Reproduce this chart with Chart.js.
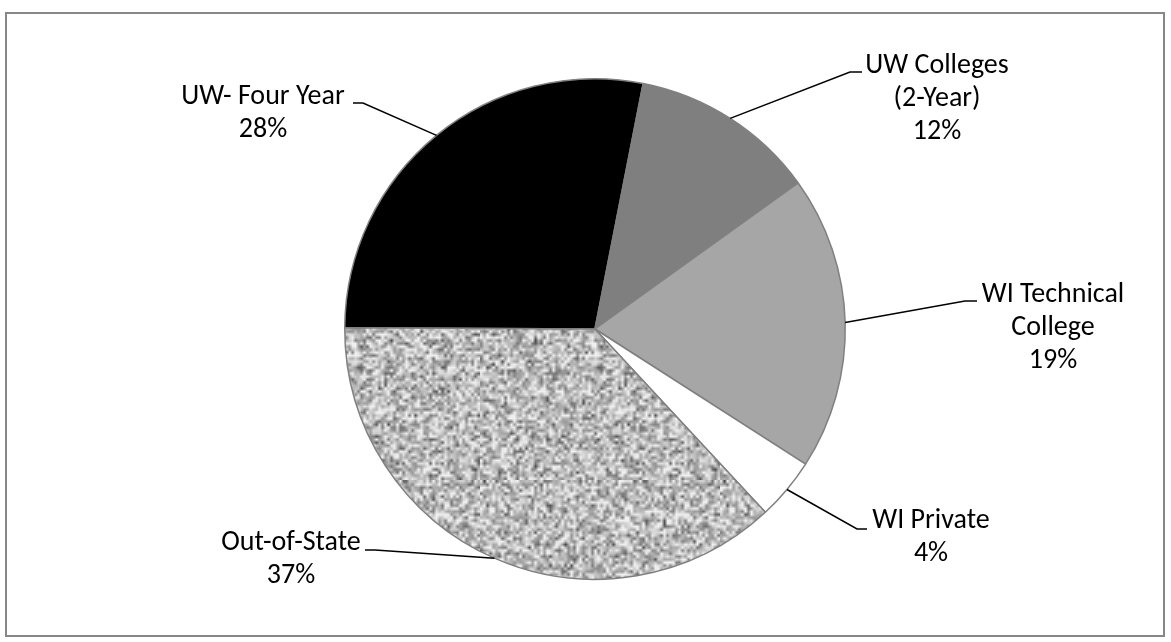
<!DOCTYPE html>
<html>
<head>
<meta charset="utf-8">
<script src="https://cdn.jsdelivr.net/npm/chart.js@4.4.1/dist/chart.umd.min.js"></script>
<style>
  html, body { margin: 0; padding: 0; background: #fff; }
</style>
</head>
<body>
<canvas id="pieChart" width="1171" height="642"></canvas>
<script>
// data
const categories = ['UW- Four Year', 'UW Colleges (2-Year)', 'WI Technical College', 'WI Private', 'Out-of-State'];
const shares = [28, 12, 19, 4, 37];
const labelLines = [['UW- Four Year'], ['UW Colleges', '(2-Year)'], ['WI Technical', 'College'], ['WI Private'], ['Out-of-State']];

// callout placement (text centre, first baseline, elbow of leader line, end of short tick)
const calloutLayout = [
  { cx: 263, y: 104, elbowX: 363, elbowY: 103, tickX: 353 },
  { cx: 937, y: 73, elbowX: 850, elbowY: 72, tickX: 862 },
  { cx: 1053, y: 302, elbowX: 965, elbowY: 301, tickX: 977 },
  { cx: 931, y: 528, elbowX: 857, elbowY: 529, tickX: 867 },
  { cx: 291, y: 550, elbowX: 375, elbowY: 550, tickX: 365 }
];
const FONT = '28px Carlito, Lato, sans-serif';

// granite-ish fill for Out-of-State
function granitePattern(ctx) {
  let seed = 12345;
  const rnd = () => { seed = (seed * 16807) % 2147483647; return seed / 2147483647; };
  const n = 80;
  const small = document.createElement('canvas');
  small.width = small.height = n;
  const sctx = small.getContext('2d');
  const img = sctx.createImageData(n, n);
  for (let i = 0; i < n * n; i++) {
    const t = (rnd() + rnd() + rnd()) / 3;
    const v = Math.max(40, Math.min(240, 60 + 255 * t));
    img.data[i * 4] = img.data[i * 4 + 1] = img.data[i * 4 + 2] = v;
    img.data[i * 4 + 3] = 255;
  }
  sctx.putImageData(img, 0, 0);
  const big = document.createElement('canvas');
  big.width = big.height = n * 3;
  const bctx = big.getContext('2d');
  bctx.imageSmoothingEnabled = true;
  bctx.drawImage(small, 0, 0, n * 3, n * 3);
  return ctx.createPattern(big, 'repeat');
}

const canvas = document.getElementById('pieChart');
const sliceColors = ['#000000', '#7f7f7f', '#a6a6a6', '#ffffff', granitePattern(canvas.getContext('2d'))];

const calloutPlugin = {
  id: 'callouts',
  beforeDraw(chart) {
    const ctx = chart.ctx;
    ctx.save();
    ctx.fillStyle = '#fff';
    ctx.fillRect(0, 0, chart.width, chart.height);
    ctx.strokeStyle = '#878787';
    ctx.lineWidth = 2;
    ctx.strokeRect(6, 13, 1158, 623);
    ctx.restore();
  },
  afterDatasetsDraw(chart) {
    const ctx = chart.ctx;
    const arcs = chart.getDatasetMeta(0).data;
    ctx.save();
    arcs.forEach((arc, i) => {
      const p = arc.getProps(['x', 'y', 'startAngle', 'endAngle', 'outerRadius']);
      const mid = (p.startAngle + p.endAngle) / 2;
      const ax = p.x + Math.cos(mid) * p.outerRadius;
      const ay = p.y + Math.sin(mid) * p.outerRadius;
      const L = calloutLayout[i];
      ctx.strokeStyle = '#000';
      ctx.lineWidth = 1.5;
      ctx.beginPath();
      ctx.moveTo(ax, ay);
      ctx.lineTo(L.elbowX, L.elbowY);
      ctx.lineTo(L.tickX, L.elbowY);
      ctx.stroke();

      const lines = labelLines[i].concat([shares[i] + '%']);
      ctx.fillStyle = '#000';
      ctx.font = FONT;
      ctx.textAlign = 'center';
      ctx.textBaseline = 'alphabetic';
      lines.forEach((t, k) => ctx.fillText(t, L.cx, L.y + k * 33));
    });
    ctx.restore();
  }
};

new Chart(canvas, {
  type: 'pie',
  data: {
    labels: categories,
    datasets: [{
      data: shares,
      backgroundColor: sliceColors,
      borderColor: '#808080',
      borderWidth: 1.5
    }]
  },
  options: {
    responsive: false,
    animation: false,
    rotation: 270.3,
    layout: { padding: { left: 300, right: 281, top: 78, bottom: 62 } },
    plugins: {
      legend: { display: false },
      tooltip: { enabled: false }
    }
  },
  plugins: [calloutPlugin]
});
</script>
</body>
</html>
